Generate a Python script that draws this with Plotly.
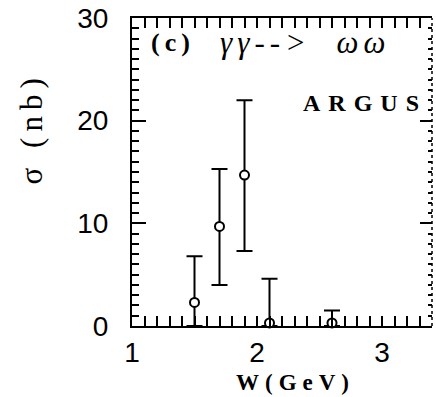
import plotly.graph_objects as go

# Data
W = [1.5, 1.7, 1.9, 2.1, 2.6]
sigma = [2.3, 9.7, 14.7, 0.3, 0.3]
err_up = [4.5, 5.6, 7.3, 4.3, 1.2]
err_down = [2.3, 5.7, 7.4, 0.3, 0.3]

x_ticks = [1, 2, 3]
y_ticks = [0, 10, 20, 30]

fig = go.Figure()
fig.add_trace(go.Scatter(
    x=W, y=sigma, mode="markers",
    marker=dict(symbol="circle", size=9, color="white",
                line=dict(color="black", width=2)),
    error_y=dict(type="data", symmetric=False, array=err_up,
                 arrayminus=err_down, color="black", thickness=2, width=8),
    showlegend=False, cliponaxis=False,
))
fig.add_trace(go.Scatter(x=[None], y=[None], yaxis="y2", showlegend=False))

tickfont = dict(family="Liberation Sans", size=28, color="black")
fig.update_layout(
    template="none",
    width=436, height=397,
    margin=dict(l=132, r=4, t=18, b=71, autoexpand=False),
    paper_bgcolor="white", plot_bgcolor="white",
    xaxis=dict(range=[1, 3.4], tickvals=x_ticks, ticks="inside", ticklen=10,
               tickwidth=2, tickcolor="black", showline=True, linewidth=2,
               linecolor="black", mirror="allticks", showgrid=False,
               zeroline=False, tickfont=tickfont, ticklabelstandoff=0,
               automargin=False, ticklabeloverflow="allow",
               minor=dict(dtick=0.1, ticks="inside", ticklen=6, tickwidth=2,
                          tickcolor="black", showgrid=False)),
    yaxis=dict(range=[0, 30], tickvals=y_ticks, ticks="inside", ticklen=14,
               tickwidth=2, tickcolor="black", showline=True, linewidth=2,
               linecolor="black", mirror=False, showgrid=False,
               zeroline=False, tickfont=tickfont, ticklabelstandoff=16,
               automargin=False, ticklabeloverflow="allow",
               minor=dict(dtick=1, ticks="inside", ticklen=7, tickwidth=2,
                          tickcolor="black", showgrid=False)),
    yaxis2=dict(range=[0, 30], overlaying="y", side="right", tickvals=y_ticks,
                ticks="inside", ticklen=12, tickwidth=2, tickcolor="black",
                showline=False, showticklabels=False, showgrid=False,
                zeroline=False, automargin=False,
                minor=dict(dtick=1, ticks="inside", ticklen=4, tickwidth=2,
                           tickcolor="black", showgrid=False)),
    shapes=[dict(type="line", xref="paper", yref="paper", x0=1, x1=1,
                 y0=0, y1=1, line=dict(color="black", width=1.5, dash="dot"))],
)

serif = "Liberation Serif"
ann = dict(xref="paper", yref="paper", showarrow=False,
           xanchor="center", yanchor="middle")
fig.add_annotation(text='<span style="letter-spacing:6px">σ (nb)</span>',
                   textangle=-90, x=-0.335, y=0.64,
                   font=dict(family=serif, size=31, color="black"), **ann)
fig.add_annotation(text='<span style="letter-spacing:6px"><b>W(GeV)</b></span>',
                   x=0.545, y=-0.182,
                   font=dict(family=serif, size=23, color="black"), **ann)
fig.add_annotation(text='<span style="letter-spacing:5px"><b>(c)</b></span>',
                   x=0.137, y=0.922,
                   font=dict(family=serif, size=26, color="black"), **ann)
fig.add_annotation(text='<span style="letter-spacing:5px"><i>γγ--&gt;  ωω</i></span>',
                   x=0.575, y=0.922,
                   font=dict(family=serif, size=31, color="black"), **ann)
fig.add_annotation(text='<span style="letter-spacing:8px"><b>ARGUS</b></span>',
                   x=0.775, y=0.724,
                   font=dict(family=serif, size=24, color="black"), **ann)

# remove the browser's default 8px body margin so the figure fills the window
fig.write_html("out.html",
               config={"displayModeBar": False},
               post_script="document.body.style.margin='0';"
                           "document.body.style.overflow='hidden';")
